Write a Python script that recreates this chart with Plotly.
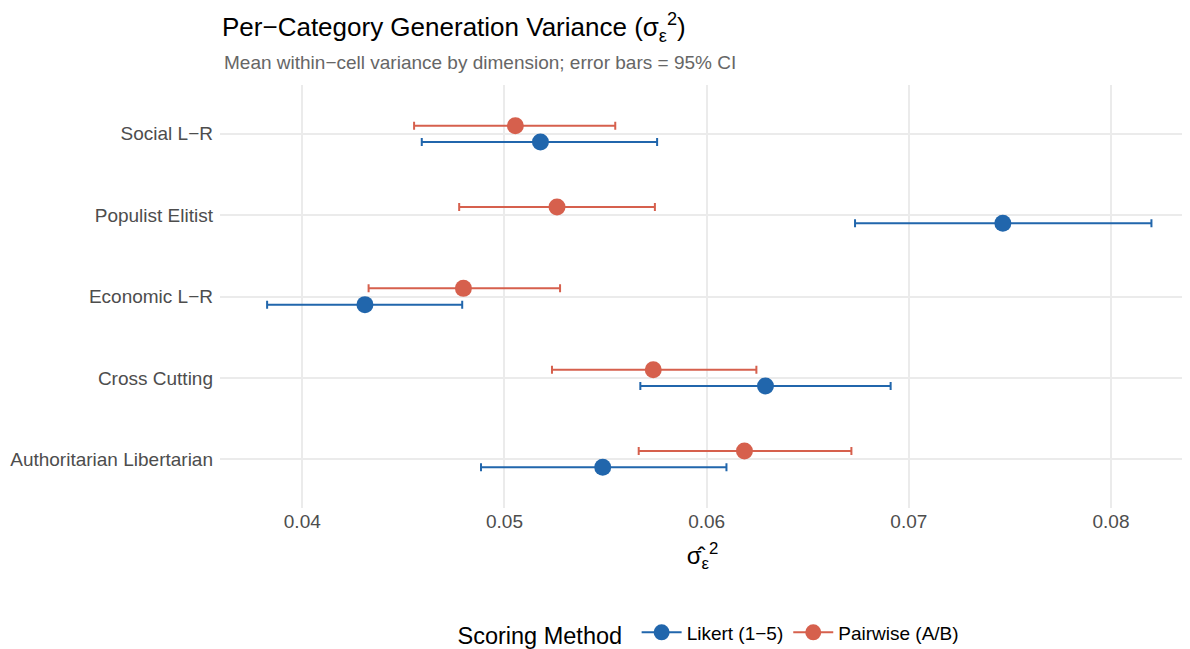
import plotly.graph_objects as go

categories = ["Authoritarian Libertarian", "Cross Cutting", "Economic L\u2212R", "Populist Elitist", "Social L\u2212R"]

likert_mean = [0.05486, 0.06291, 0.04310, 0.07465, 0.05178]
likert_lo = [0.04884, 0.05672, 0.03826, 0.06734, 0.04591]
likert_hi = [0.06098, 0.06910, 0.04791, 0.08200, 0.05755]

pair_mean = [0.06187, 0.05736, 0.04797, 0.05260, 0.05054]
pair_lo = [0.05664, 0.05235, 0.04328, 0.04776, 0.04553]
pair_hi = [0.06716, 0.06246, 0.05275, 0.05744, 0.05548]

x_ticks = [0.04, 0.05, 0.06, 0.07, 0.08]
x_tick_labels = ["0.04", "0.05", "0.06", "0.07", "0.08"]

BLUE = "#2166ac"
RED = "#d6604d"
FONT = "Liberation Sans, Arial, sans-serif"
dodge = 0.1

# page body has an 8px default margin; lay out in figure coords
OFF = 8
W, H = 1190 - OFF, 649 - OFF
L, R, T, B = 220 - OFF, 5, 85 - OFF, 141
plot_w = W - L - R
plot_h = H - T - B

fig = go.Figure()

series = [
    ("Likert (1\u22125)", likert_mean, likert_lo, likert_hi, BLUE, -dodge),
    ("Pairwise (A/B)", pair_mean, pair_lo, pair_hi, RED, dodge),
]

for name, m, lo, hi, col, off in series:
    ys = [i + off for i in range(len(categories))]
    fig.add_trace(go.Scatter(
        x=m, y=ys, mode="markers", name=name, showlegend=False,
        marker=dict(color=col, size=17, line=dict(width=0)),
        error_x=dict(type="data", symmetric=False,
                     array=[h - v for h, v in zip(hi, m)],
                     arrayminus=[v - l for v, l in zip(m, lo)],
                     color=col, thickness=2, width=4),
    ))

for name, m, lo, hi, col, off in series:
    fig.add_trace(go.Scatter(
        x=[None], y=[None], mode="lines+markers", name=name, showlegend=True,
        marker=dict(color=col, size=16), line=dict(color=col, width=2),
    ))

fig.update_layout(
    width=W, height=H,
    paper_bgcolor="white", plot_bgcolor="white",
    margin=dict(l=L, r=R, t=T, b=B, autoexpand=False),
    font=dict(family=FONT, color="#4d4d4d", size=19),
    title=dict(
        text="Per\u2212Category Generation Variance (\u03c3<sub>\u03b5</sub><sup>2</sup>)",
        x=(222 - OFF) / W, xanchor="left", xref="container",
        y=1 - (27 - OFF) / H, yanchor="middle", yref="container",
        font=dict(size=26, color="black", family=FONT),
    ),
    xaxis=dict(
        range=[0.03593, 0.08366],
        tickvals=x_ticks, ticktext=x_tick_labels,
        showgrid=True, gridcolor="#ebebeb", gridwidth=2,
        zeroline=False, showline=False, ticks="",
        tickfont=dict(size=19, color="#4d4d4d"),
        title=dict(text="\u03c3\u0302<sub>\u03b5</sub><sup>2</sup>", font=dict(size=24, color="black"), standoff=16),
    ),
    yaxis=dict(
        range=[-0.6, 4.6],
        tickvals=list(range(len(categories))), ticktext=categories,
        showgrid=True, gridcolor="#ebebeb", gridwidth=2,
        zeroline=False, showline=False, ticks="",
        tickfont=dict(size=19, color="#4d4d4d"),
        ticklabelstandoff=6,
    ),
    legend=dict(
        orientation="h", x=(710 - OFF) / W, xanchor="center", xref="container",
        y=1 - (634 - OFF) / H, yanchor="middle", yref="container",
        title=dict(text="Scoring Method ", font=dict(size=23.5, color="black"), side="left"),
        font=dict(size=19, color="black"),
        itemwidth=40,
    ),
    annotations=[dict(
        text="Mean within\u2212cell variance by dimension; error bars = 95% CI",
        x=(222 - OFF - L) / plot_w, xref="paper", xanchor="left",
        y=(H - B - (63 - OFF)) / plot_h, yref="paper", yanchor="middle",
        showarrow=False, font=dict(size=19, color="#666666", family=FONT),
    )],
)

fig.write_html("out.html")
